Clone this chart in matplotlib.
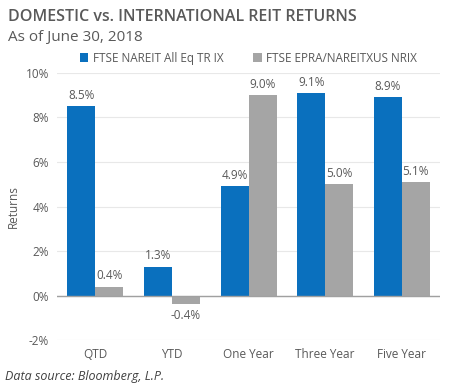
import numpy as np
import matplotlib.pyplot as plt

plt.rcParams['font.family'] = ['Open Sans', 'DejaVu Sans']

# data
categories = ['QTD', 'YTD', 'One Year', 'Three Year', 'Five Year']
domestic = [8.5, 1.3, 4.9, 9.1, 8.9]
international = [0.4, -0.4, 9.0, 5.0, 5.1]
series_names = ['FTSE NAREIT All Eq TR IX', 'FTSE EPRA/NAREITXUS NRIX']

blue = '#0A70BE'
gray = '#A5A5A5'
txt = '#595959'

fig = plt.figure(figsize=(4.5, 3.86), dpi=100)
ax = fig.add_axes([0.127, 0.119, 0.851, 0.692])

x = np.arange(len(categories))
w = 0.365
b1 = ax.bar(x - w / 2, domestic, w, color=blue, label=series_names[0], zorder=3)
b2 = ax.bar(x + w / 2, international, w, color=gray, label=series_names[1], zorder=3)

for bars, vals in [(b1, domestic), (b2, international)]:
    for r, v in zip(bars, vals):
        if v >= 0:
            ax.text(r.get_x() + r.get_width() / 2, v + 0.2, f'{v:.1f}%', ha='center',
                    va='bottom', fontsize=8.5, color=txt)
        else:
            ax.text(r.get_x() + r.get_width() / 2, v - 0.2, f'{v:.1f}%', ha='center',
                    va='top', fontsize=8.5, color=txt)

ax.set_ylim(-2, 10)
ax.set_xlim(-0.5, len(categories) - 0.5)
ax.set_yticks(np.arange(-2, 11, 2))
ax.set_yticklabels([f'{t}%' for t in range(-2, 11, 2)])
ax.set_xticks(x)
ax.set_xticklabels(categories)
ax.tick_params(length=0, labelsize=8.5, colors=txt, pad=6)
ax.grid(axis='y', color='#E8E8E8', linewidth=0.8, zorder=0)
ax.axhline(0, color='#A0A0A0', linewidth=1, zorder=4)
for s in ax.spines.values():
    s.set_visible(False)
ax.set_ylabel('Returns', fontsize=8.5, color=txt, labelpad=4)

ax.legend(loc='lower center', bbox_to_anchor=(0.5, 1.0), ncol=2, frameon=False,
          fontsize=8.5, handlelength=0.7, handleheight=0.7, columnspacing=2.5,
          handletextpad=0.4, labelcolor=txt, borderaxespad=0.3)

fig.text(0.018, 0.955, 'DOMESTIC vs. INTERNATIONAL REIT RETURNS', fontsize=11.5,
         fontweight='semibold', color=txt, va='center')
fig.text(0.018, 0.902, 'As of June 30, 2018', fontsize=11, color=txt, va='center')
fig.text(0.012, 0.025, 'Data source: Bloomberg, L.P.', fontsize=9, style='italic',
         color='#404040', va='center')

fig.savefig('out.png', dpi=100)
